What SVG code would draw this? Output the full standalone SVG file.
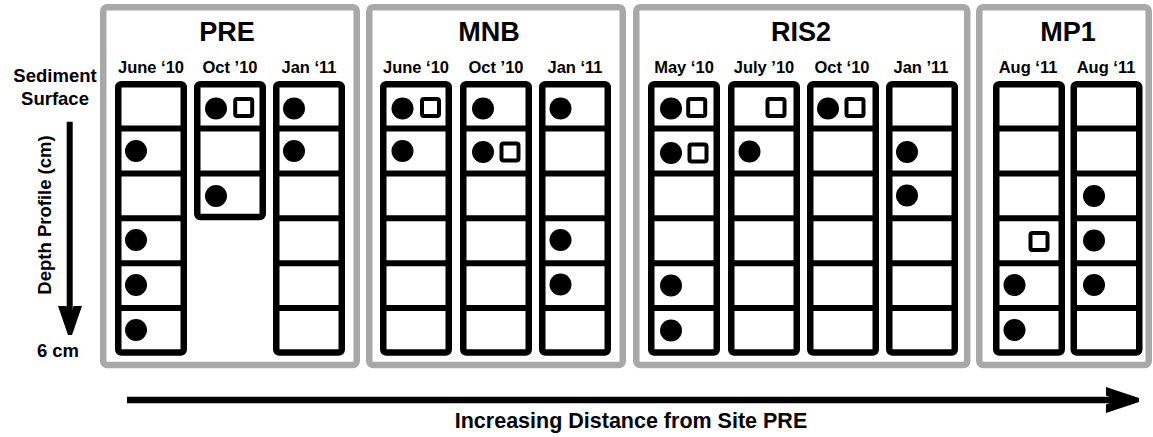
<svg xmlns="http://www.w3.org/2000/svg" width="1153" height="437" viewBox="0 0 1153 437">
<defs>
<style>
text{font-family:"Liberation Sans",Arial,Helvetica,sans-serif;font-weight:bold;fill:#000}
.panel{fill:#fff;stroke:#a8a8a8;stroke-width:6.5}
.col{fill:#fff;stroke:#000;stroke-width:6.5}
.div{stroke:#000;stroke-width:6}
.title{font-size:27px;text-anchor:middle}
.hdr{font-size:16.5px;text-anchor:middle}
.side{font-size:18.5px;text-anchor:middle}
.dot{fill:#000}
.sq{fill:#fff;stroke:#000;stroke-width:4}
</style>
<g id="dividers6">
<line class="div" x1="1" y1="128.5" x2="71" y2="128.5"/>
<line class="div" x1="1" y1="173.5" x2="71" y2="173.5"/>
<line class="div" x1="1" y1="218.3" x2="71" y2="218.3"/>
<line class="div" x1="1" y1="263.2" x2="71" y2="263.2"/>
<line class="div" x1="1" y1="308" x2="71" y2="308"/>
</g>
</defs>
<rect width="1153" height="437" fill="#fff"/>

<!-- Panels -->
<g id="panel-PRE">
<rect class="panel" x="103.25" y="7.25" width="253.5" height="357.8" rx="4"/>
<text class="title" x="227" y="41">PRE</text>
<g id="PRE-june10">
<text class="hdr" x="151" y="73">June ‘10</text>
<rect class="col" x="118.25" y="84.25" width="65.5" height="268.25" rx="3"/>
<use href="#dividers6" x="115"/>
<circle class="dot" cx="136" cy="151" r="11"/>
<circle class="dot" cx="136" cy="240" r="11"/>
<circle class="dot" cx="136" cy="285" r="11"/>
<circle class="dot" cx="136" cy="330" r="11"/>
</g>
<g id="PRE-oct10">
<text class="hdr" x="230" y="73">Oct ’10</text>
<rect class="col" x="197.25" y="84.25" width="65.5" height="132.75" rx="3"/>
<line class="div" x1="195" y1="128.5" x2="265" y2="128.5"/>
<line class="div" x1="195" y1="173.5" x2="265" y2="173.5"/>
<circle class="dot" cx="216" cy="108.5" r="11"/>
<rect class="sq" x="235.2" y="99" width="17" height="17" rx="2"/>
<circle class="dot" cx="216" cy="196" r="11"/>
</g>
<g id="PRE-jan11">
<text class="hdr" x="309" y="73">Jan ‘11</text>
<rect class="col" x="276.25" y="84.25" width="65.5" height="268.25" rx="3"/>
<use href="#dividers6" x="273"/>
<circle class="dot" cx="294" cy="108.5" r="11"/>
<circle class="dot" cx="294" cy="151" r="11"/>
</g>
</g>

<g id="panel-MNB">
<rect class="panel" x="369.25" y="7.25" width="253.5" height="357.8" rx="4"/>
<text class="title" x="489" y="41">MNB</text>
<g id="MNB-june10">
<text class="hdr" x="416" y="73">June ‘10</text>
<rect class="col" x="383.25" y="84.25" width="65.5" height="268.25" rx="3"/>
<use href="#dividers6" x="380"/>
<circle class="dot" cx="402.5" cy="108.5" r="11"/>
<rect class="sq" x="422" y="99" width="17" height="17" rx="2"/>
<circle class="dot" cx="402.5" cy="151" r="11"/>
</g>
<g id="MNB-oct10">
<text class="hdr" x="496" y="73">Oct ’10</text>
<rect class="col" x="463.25" y="84.25" width="65.5" height="268.25" rx="3"/>
<use href="#dividers6" x="460"/>
<circle class="dot" cx="483" cy="108.5" r="11"/>
<circle class="dot" cx="483" cy="152" r="11"/>
<rect class="sq" x="501.5" y="143.5" width="17" height="17" rx="2"/>
</g>
<g id="MNB-jan11">
<text class="hdr" x="575" y="73">Jan ‘11</text>
<rect class="col" x="542.25" y="84.25" width="65.5" height="268.25" rx="3"/>
<use href="#dividers6" x="539"/>
<circle class="dot" cx="560.5" cy="108.5" r="11"/>
<circle class="dot" cx="560.5" cy="240" r="11"/>
<circle class="dot" cx="560.5" cy="284.5" r="11"/>
</g>
</g>

<g id="panel-RIS2">
<rect class="panel" x="636.25" y="7.25" width="331" height="357.8" rx="4"/>
<text class="title" x="801" y="41">RIS2</text>
<g id="RIS2-may10">
<text class="hdr" x="684" y="73">May ‘10</text>
<rect class="col" x="651.25" y="84.25" width="65.5" height="268.25" rx="3"/>
<use href="#dividers6" x="648"/>
<circle class="dot" cx="671" cy="108.5" r="11"/>
<rect class="sq" x="688.2" y="99" width="17" height="17" rx="2"/>
<circle class="dot" cx="671" cy="153" r="11"/>
<rect class="sq" x="689.5" y="144.5" width="17" height="17" rx="2"/>
<circle class="dot" cx="671" cy="285.5" r="11"/>
<circle class="dot" cx="671" cy="330.5" r="11"/>
</g>
<g id="RIS2-july10">
<text class="hdr" x="764" y="73">July ’10</text>
<rect class="col" x="731.25" y="84.25" width="65.5" height="268.25" rx="3"/>
<use href="#dividers6" x="728"/>
<rect class="sq" x="767.5" y="99" width="17" height="17" rx="2"/>
<circle class="dot" cx="749.5" cy="151.5" r="11"/>
</g>
<g id="RIS2-oct10">
<text class="hdr" x="842" y="73">Oct ‘10</text>
<rect class="col" x="810.25" y="84.25" width="65.5" height="268.25" rx="3"/>
<use href="#dividers6" x="807"/>
<circle class="dot" cx="828" cy="108.5" r="11"/>
<rect class="sq" x="846.5" y="99" width="17" height="17" rx="2"/>
</g>
<g id="RIS2-jan11">
<text class="hdr" x="921" y="73">Jan ’11</text>
<rect class="col" x="889.25" y="84.25" width="65.5" height="268.25" rx="3"/>
<use href="#dividers6" x="886"/>
<circle class="dot" cx="907" cy="152" r="11"/>
<circle class="dot" cx="907" cy="195.5" r="11"/>
</g>
</g>

<g id="panel-MP1">
<rect class="panel" x="979.25" y="7.25" width="169.5" height="357.8" rx="4"/>
<text class="title" x="1068" y="41">MP1</text>
<g id="MP1-aug11-a">
<text class="hdr" x="1028" y="73">Aug ‘11</text>
<rect class="col" x="996.25" y="84.25" width="65.5" height="268.25" rx="3"/>
<use href="#dividers6" x="993"/>
<rect class="sq" x="1030.5" y="233" width="17" height="17" rx="2"/>
<circle class="dot" cx="1014.5" cy="285" r="11"/>
<circle class="dot" cx="1014.5" cy="330" r="11"/>
</g>
<g id="MP1-aug11-b">
<text class="hdr" x="1106" y="73">Aug ‘11</text>
<rect class="col" x="1073.75" y="84.25" width="65.5" height="268.25" rx="3"/>
<use href="#dividers6" x="1070.5"/>
<circle class="dot" cx="1094" cy="196" r="11"/>
<circle class="dot" cx="1094" cy="240.5" r="11"/>
<circle class="dot" cx="1094" cy="285" r="11"/>
</g>
</g>

<!-- Axis labels -->
<g id="depth-labels">
<text class="side" x="55" y="82">Sediment</text>
<text class="side" x="55" y="105">Surface</text>
<text class="side" transform="translate(50.5,215) rotate(-90)" x="0" y="0">Depth Profile (cm)</text>
<text class="side" x="58" y="357">6 cm</text>
</g>
<text id="distance-label" class="side" x="631" y="428" style="font-size:21.5px">Increasing Distance from Site PRE</text>

<!-- Connectors (axis arrows) -->
<g id="connectors">
<line x1="69.7" y1="121.7" x2="69.7" y2="326" stroke="#000" stroke-width="6"/>
<polygon points="58,306 66.5,306 70,317 73.5,306 82,306 72,335 68,335" fill="#000"/>
<line x1="127" y1="400" x2="1130" y2="400" stroke="#000" stroke-width="6.7"/>
<polygon points="1106,387 1139,398 1139,402 1106,413 1106,404.5 1117,400 1106,395.5" fill="#000"/>
</g>
</svg>
